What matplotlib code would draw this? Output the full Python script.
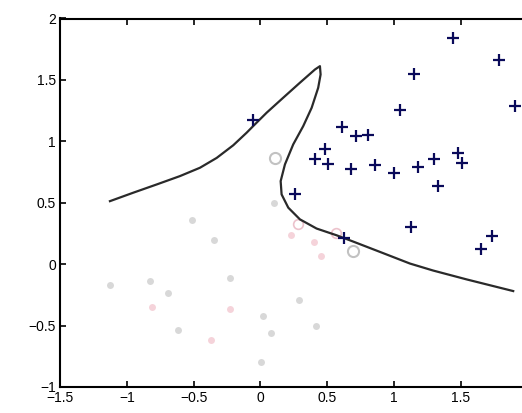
import matplotlib
matplotlib.use('Agg')
import matplotlib.pyplot as plt

plt.rcParams['font.family'] = ['Liberation Sans', 'DejaVu Sans']

# positive class (+)
pos_x = [-0.054, 0.262, 0.412, 0.485, 0.505, 0.611, 0.675, 0.713, 0.806, 0.861,
         1.001, 1.044, 1.152, 1.182, 1.297, 1.332, 1.445, 1.477, 1.510, 1.783,
         1.904, 0.626, 1.126, 1.650, 1.733]
pos_y = [1.171, 0.571, 0.857, 0.940, 0.816, 1.114, 0.778, 1.041, 1.049, 0.808,
         0.742, 1.253, 1.552, 0.791, 0.857, 0.633, 1.840, 0.905, 0.824, 1.666,
         1.285, 0.213, 0.300, 0.123, 0.231]

# negative class, faint grey dots
neg_grey_x = [-0.510, -0.347, -0.227, -1.124, -0.823, -0.690, -0.615, 0.021,
              0.079, 0.004, 0.292, 0.417, 0.104]
neg_grey_y = [0.356, 0.193, -0.111, -0.168, -0.133, -0.235, -0.535, -0.420,
              -0.557, -0.793, -0.290, -0.500, 0.498]

# negative class, faint pink dots
neg_pink_x = [-0.810, -0.227, -0.372, 0.455, 0.405, 0.229]
neg_pink_y = [-0.345, -0.366, -0.616, 0.063, 0.177, 0.240]

# circled points near the boundary
ring_grey_x = [0.111, 0.693]
ring_grey_y = [0.865, 0.104]
ring_pink_x = [0.285, 0.568]
ring_pink_y = [0.325, 0.253]

# decision boundary, traced from the left end round the tip to the right end
bound_x = [-1.126, -0.951, -0.776, -0.602, -0.452, -0.327, -0.203, -0.103,
           -0.053, 0.047, 0.171, 0.296, 0.409, 0.446, 0.451, 0.433, 0.384,
           0.321, 0.246, 0.184, 0.152, 0.159, 0.209, 0.296, 0.421, 0.571,
           0.695, 0.895, 1.120, 1.294, 1.544, 1.893]
bound_y = [0.513, 0.582, 0.649, 0.717, 0.785, 0.865, 0.968, 1.070,
           1.125, 1.233, 1.355, 1.477, 1.585, 1.612, 1.544, 1.436, 1.273,
           1.124, 0.975, 0.812, 0.676, 0.568, 0.460, 0.365, 0.290, 0.235,
           0.184, 0.100, 0.005, -0.052, -0.124, -0.219]

fig = plt.figure(figsize=(5.22, 4.13), dpi=100)
ax = fig.add_axes([60 / 522, 26 / 413, 467.5 / 522, 368.5 / 413])

ax.plot(neg_grey_x, neg_grey_y, 'o', ms=5, color='#d8d8d8', mec='none')
ax.plot(neg_pink_x, neg_pink_y, 'o', ms=5, color='#f5d3da', mec='none')
ax.plot(ring_grey_x, ring_grey_y, 'o', ms=8, mfc='none', mec='#c2c2c2', mew=1.5)
ax.plot(ring_pink_x, ring_pink_y, 'o', ms=7, mfc='none', mec='#ecc2cc', mew=1.2)
ax.plot(bound_x, bound_y, '-', color='#2a2a2a', lw=1.6,
        solid_joinstyle='round')
ax.plot(pos_x, pos_y, '+', ms=8, mew=1.6, color='#0a0a5a')

ax.set_xlim(-1.5, 2)
ax.set_ylim(-1, 2)
ax.set_xticks([-1.5, -1, -0.5, 0, 0.5, 1, 1.5])
ax.set_xticklabels(['\u22121.5', '\u22121', '\u22120.5', '0', '0.5', '1', '1.5'])
ax.set_yticks([-1, -0.5, 0, 0.5, 1, 1.5, 2])
ax.set_yticklabels(['\u22121', '\u22120.5', '0', '0.5', '1', '1.5', '2'])
ax.tick_params(direction='in', length=4, width=1.2, labelsize=10, top=True,
               right=True, pad=3)
for s in ax.spines.values():
    s.set_linewidth(1.5)

fig.savefig('out.png', dpi=100)
